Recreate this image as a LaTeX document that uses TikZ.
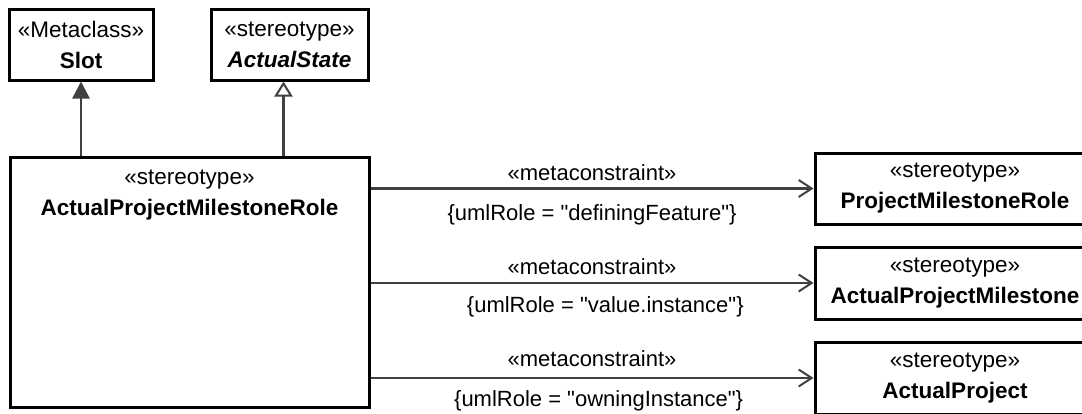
\documentclass[tikz,border=0pt]{standalone}
\usepackage{fontspec}
\setmainfont{Liberation Sans}[Ligatures=TeXOff]
\usetikzlibrary{arrows.meta,positioning}

\definecolor{linegrey}{HTML}{404040}

\tikzset{
  umlbox/.style={draw=black,line width=3pt,fill=white,align=center,inner sep=0pt,
    font=\fontsize{22.5}{31}\selectfont},
  boxtext/.style={align=center,inner sep=0pt,font=\fontsize{22.5}{31}\selectfont},
  metalabel/.style={inner sep=0pt,font=\fontsize{22}{26}\selectfont},
  extends/.style={draw=linegrey,line width=2.5pt,-{Triangle[length=17pt,width=17pt,fill=linegrey]}},
  generalizes/.style={draw=linegrey,line width=2.5pt,-{Triangle[open,length=15pt,width=18pt,line width=2pt,fill=white]}},
  metaarrow/.style={draw=linegrey,line width=2.5pt,-{Straight Barb[length=13pt,width=17pt,line width=2pt]}}
}

\begin{document}
\begin{tikzpicture}[x=1pt,y=-1pt]
\useasboundingbox (0,0) rectangle (1082,413);

% upper boxes
\node[umlbox,minimum width=144pt,minimum height=71pt] (slot) at (81,44.5)
  {«Metaclass»\\\textbf{Slot}};
\node[umlbox,minimum width=157pt,minimum height=71pt] (state) at (289.5,44.5)
  {«stereotype»\\\textbf{\textit{ActualState}}};

% main stereotype
\node[umlbox,minimum width=359pt,minimum height=250pt] (main) at (189.5,282) {};
\node[boxtext] (mainname) at (189.5,195) {«stereotype»\\\textbf{ActualProjectMilestoneRole}};

% right boxes
\node[umlbox,minimum width=280pt,minimum height=71pt] (pmrole) at (955,188.5)
  {«stereotype»\\\textbf{ProjectMilestoneRole}};
\node[umlbox,minimum width=280pt,minimum height=72pt] (milestone) at (955,283)
  {«stereotype»\\\textbf{ActualProjectMilestone}};
\node[umlbox,minimum width=280pt,minimum height=72pt] (project) at (955,378)
  {«stereotype»\\\textbf{ActualProject}};

% connectors
\draw[extends] (main.north -| slot.south) -- (slot.south);
\draw[generalizes] ([xshift=-6pt]main.north -| state.south) -- ([xshift=-6pt]state.south);

\draw[metaarrow] (main.east |- pmrole) -- (pmrole)
  node[metalabel,pos=0.5,yshift=16pt] (mc1) {«metaconstraint»}
  node[metalabel,pos=0.5,yshift=-26pt] (role1) {\{umlRole = "definingFeature"\}};
\draw[metaarrow] (main.east |- milestone) -- (milestone)
  node[metalabel,pos=0.5,yshift=16pt] (mc2) {«metaconstraint»}
  node[metalabel,pos=0.53,yshift=-24pt] (role2) {\{umlRole = "value.instance"\}};
\draw[metaarrow] (main.east |- project) -- (project)
  node[metalabel,pos=0.5,yshift=19pt] (mc3) {«metaconstraint»}
  node[metalabel,pos=0.515,yshift=-23pt] (role3) {\{umlRole = "owningInstance"\}};
\end{tikzpicture}
\end{document}
